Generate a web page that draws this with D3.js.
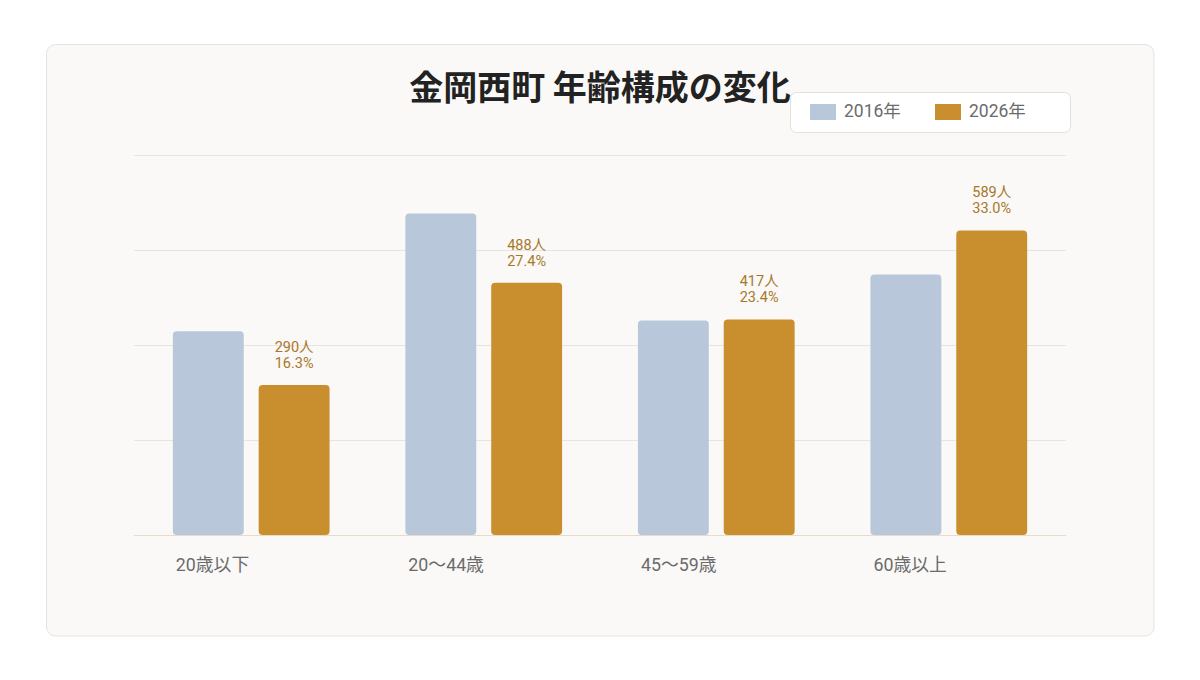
<!DOCTYPE html>
<html>
<head>
  <meta charset="utf-8">
  <script src="https://d3js.org/d3.v7.min.js"></script>
  <style>
    html, body { margin: 0; padding: 0; background: #ffffff; }
    svg { display: block; }
    text { font-family: Roboto, "Noto Sans CJK JP", sans-serif; }
    .title { font-family: "Noto Sans CJK JP", sans-serif; font-weight: 700; }
  </style>
</head>
<body>
<div id="chart"></div>
<script>
  // データ
  var categories = ["20歳以下", "20〜44歳", "45〜59歳", "60歳以上"];
  var years = ["2016年", "2026年"];
  var values2016 = [394, 622, 415, 504];
  var values2026 = [290, 488, 417, 589];
  var yMax = 735;

  var colors = { "2016年": "#b8c7da", "2026年": "#c98f2e" };

  var W = 1200, H = 680;
  var plot = { left: 134, right: 1066, top: 155, bottom: 535 };

  var svg = d3.select("#chart").append("svg")
    .attr("width", W)
    .attr("height", H);

  // カード背景
  svg.append("rect")
    .attr("x", 46.5).attr("y", 44.5)
    .attr("width", 1107.5).attr("height", 591.5)
    .attr("rx", 9)
    .attr("fill", "#faf9f7")
    .attr("stroke", "#e7e3dd");

  // タイトル
  svg.append("text")
    .attr("class", "title")
    .attr("x", 600).attr("y", 100)
    .attr("text-anchor", "middle")
    .attr("font-size", 34)
    .attr("fill", "#222222")
    .text("金岡西町 年齢構成の変化");

  var x0 = d3.scaleBand()
    .domain(categories)
    .range([plot.left, plot.right])
    .paddingInner(0.326)
    .paddingOuter(0.167);

  var x1 = d3.scaleBand()
    .domain(years)
    .range([0, x0.bandwidth()])
    .paddingInner(0.174);

  var y = d3.scaleLinear()
    .domain([0, yMax])
    .range([plot.bottom, plot.top]);

  // グリッド線
  var grid = d3.range(5).map(function(i) { return yMax * i / 4; });
  svg.append("g").selectAll("line")
    .data(grid)
    .enter()
    .append("line")
    .attr("x1", plot.left).attr("x2", plot.right)
    .attr("y1", function(d) { return Math.round(y(d)) + 0.5; })
    .attr("y2", function(d) { return Math.round(y(d)) + 0.5; })
    .attr("stroke", function(d) { return d === 0 ? "#e8dcc6" : "#e8e5e0"; })
    .attr("stroke-width", 1);

  var total2026 = d3.sum(values2026);

  var rows = categories.map(function(c, i) {
    return { cat: c, values: [
      { year: years[0], value: values2016[i] },
      { year: years[1], value: values2026[i] }
    ] };
  });

  var groups = svg.append("g").selectAll(".group")
    .data(rows)
    .enter()
    .append("g")
    .attr("class", "group")
    .attr("transform", function(d) { return "translate(" + x0(d.cat) + ",0)"; });

  groups.selectAll("rect")
    .data(function(d) { return d.values; })
    .enter()
    .append("rect")
    .attr("x", function(d) { return x1(d.year); })
    .attr("y", function(d) { return y(d.value); })
    .attr("width", x1.bandwidth())
    .attr("height", function(d) { return y(0) - y(d.value); })
    .attr("rx", 4)
    .attr("fill", function(d) { return colors[d.year]; });

  // 2026年の数値ラベル
  var cx = x1(years[1]) + x1.bandwidth() / 2;
  var labels = groups.append("text")
    .attr("text-anchor", "middle")
    .attr("font-size", 14.5)
    .attr("fill", "#a8782a")
    .attr("y", function(d) { return y(d.values[1].value) - 33; });

  labels.append("tspan")
    .attr("x", cx)
    .text(function(d) { return d.values[1].value + "人"; });

  labels.append("tspan")
    .attr("x", cx)
    .attr("dy", 16)
    .text(function(d) { return (d.values[1].value / total2026 * 100).toFixed(1) + "%"; });

  // カテゴリラベル
  groups.append("text")
    .attr("x", 3)
    .attr("y", 571)
    .attr("font-size", 17.8)
    .attr("fill", "#6b6b6b")
    .text(function(d) { return d.cat; });

  // 凡例
  var legend = svg.append("g");
  legend.append("rect")
    .attr("x", 790.5).attr("y", 92.5)
    .attr("width", 280).attr("height", 40)
    .attr("rx", 6)
    .attr("fill", "#ffffff")
    .attr("stroke", "#e4e0da");

  var items = legend.selectAll(".item")
    .data(years)
    .enter()
    .append("g")
    .attr("class", "item")
    .attr("transform", function(d, i) { return "translate(" + (810 + i * 125) + ",104)"; });

  items.append("rect")
    .attr("width", 26).attr("height", 16)
    .attr("fill", function(d) { return colors[d]; });

  items.append("text")
    .attr("x", 34).attr("y", 13)
    .attr("font-size", 17.5)
    .attr("fill", "#6b6b6b")
    .text(function(d) { return d; });
</script>
</body>
</html>
